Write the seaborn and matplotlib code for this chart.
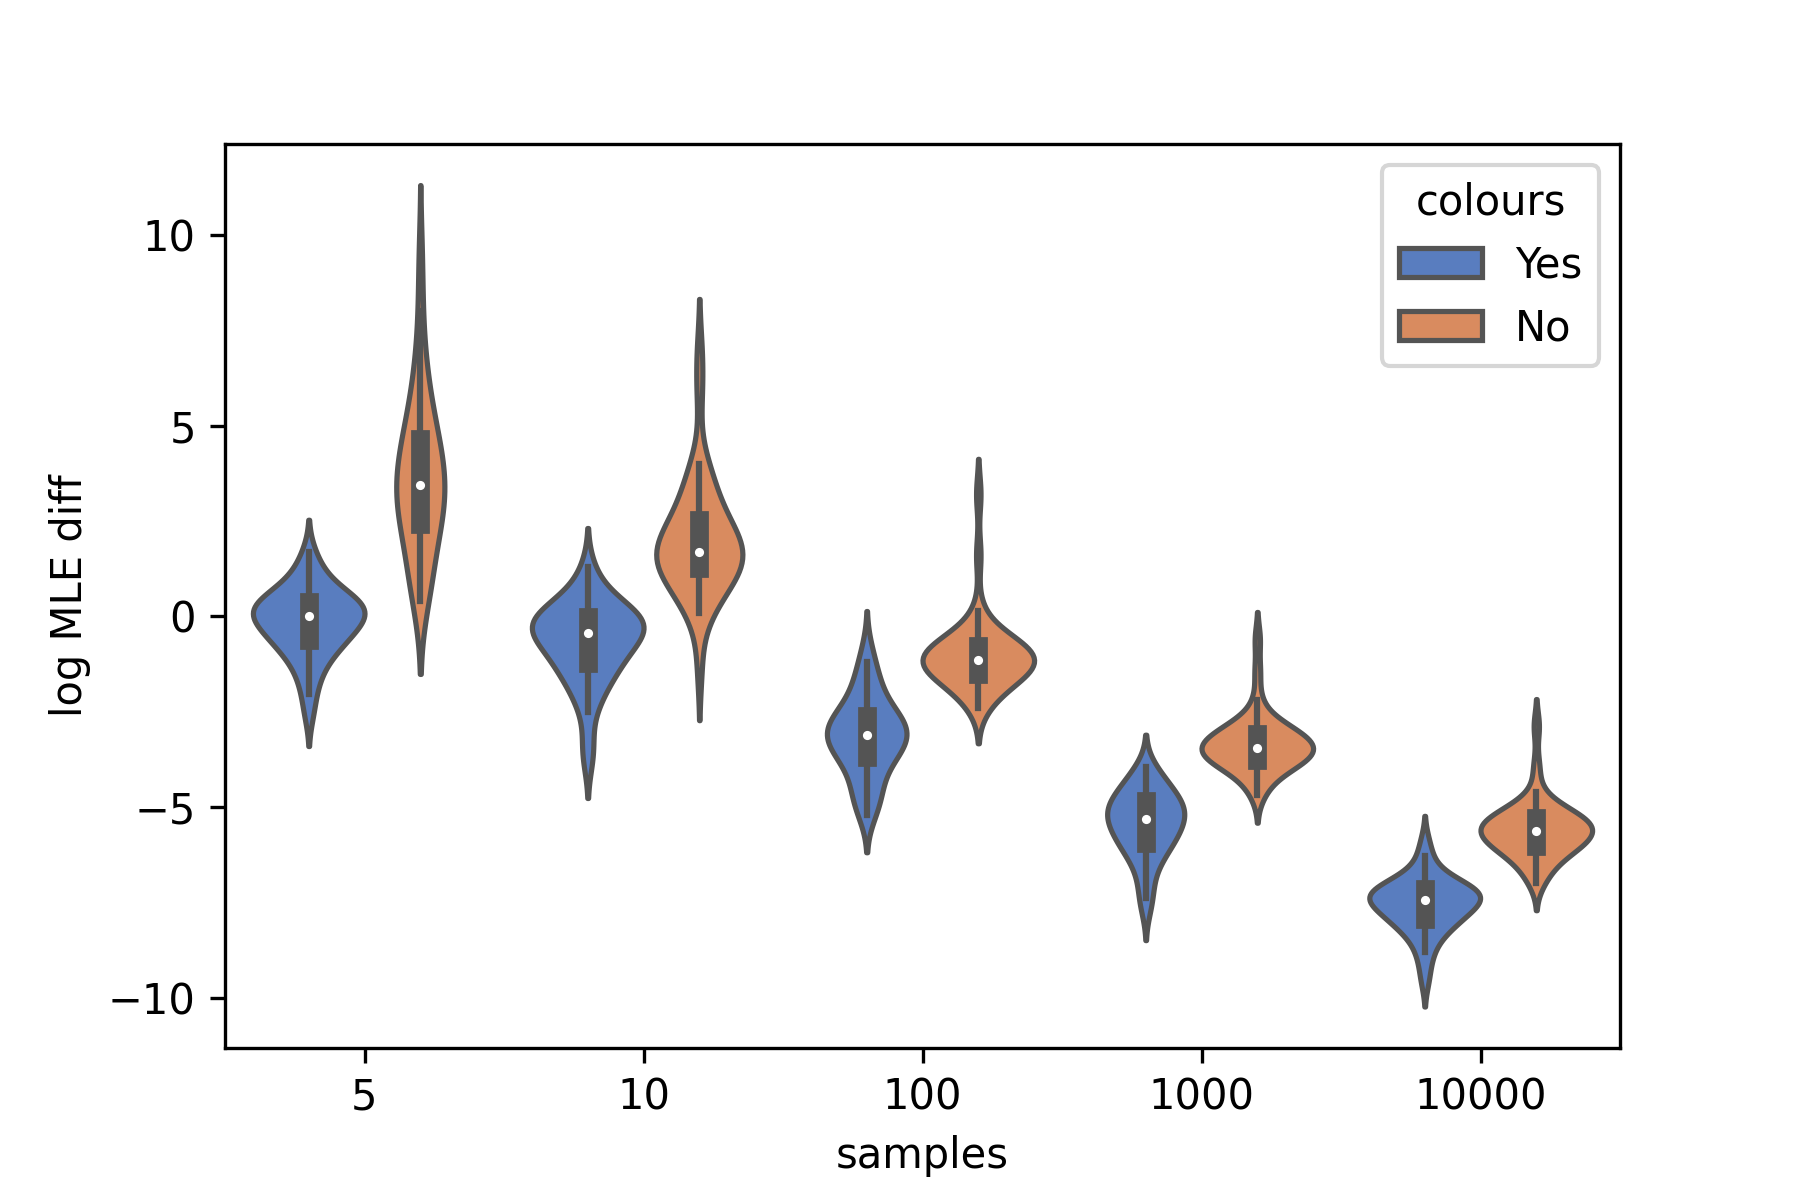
import numpy as np
import pandas as pd
import matplotlib
matplotlib.use("Agg")
import matplotlib.pyplot as plt
import seaborn as sns

samples = ["5", "10", "100", "1000", "10000"]
colours = ["Yes", "No"]

# log MLE diff values per group, estimated from the violins (median, box, whiskers, tails)
yes_5 = [-2.55, -2.05, -1.70, -1.45, -1.25, -1.08, -0.94, -0.85, -0.76, -0.68,
         -0.61, -0.54, -0.47, -0.40, -0.34, -0.27, -0.21, -0.15, -0.09, -0.03,
         0.02, 0.06, 0.09, 0.13, 0.17, 0.21, 0.25, 0.29, 0.33, 0.37,
         0.42, 0.47, 0.52, 0.58, 0.70, 0.83, 0.97, 1.12, 1.35, 1.68]
no_5 = [0.40, 0.55, 0.70, 0.90, 1.15, 1.40, 1.65, 1.90, 2.12, 2.32,
        2.46, 2.58, 2.68, 2.78, 2.88, 2.98, 3.08, 3.18, 3.28, 3.38,
        3.50, 3.62, 3.74, 3.86, 3.98, 4.10, 4.22, 4.34, 4.46, 4.62,
        4.76, 4.95, 5.15, 5.40, 5.70, 6.00, 6.40, 6.90, 8.00, 9.40]
yes_10 = [-3.75, -3.30, -2.50, -2.20, -1.97, -1.78, -1.63, -1.51, -1.40, -1.30,
          -1.20, -1.11, -1.02, -0.93, -0.85, -0.77, -0.69, -0.61, -0.54, -0.46,
          -0.40, -0.36, -0.33, -0.29, -0.25, -0.21, -0.17, -0.13, -0.08, -0.04,
          0.01, 0.06, 0.11, 0.17, 0.25, 0.35, 0.48, 0.65, 0.90, 1.30]
no_10 = [-1.30, 0.08, 0.22, 0.38, 0.52, 0.66, 0.80, 0.94, 1.08, 1.22,
         1.28, 1.31, 1.35, 1.39, 1.43, 1.47, 1.51, 1.55, 1.60, 1.64,
         1.74, 1.82, 1.90, 1.98, 2.06, 2.14, 2.22, 2.31, 2.40, 2.49,
         2.63, 2.80, 3.00, 3.20, 3.40, 3.60, 3.80, 4.00, 5.90, 6.90]
yes_100 = [-5.20, -5.05, -4.90, -4.74, -4.57, -4.40, -4.23, -4.07, -3.92, -3.78,
           -3.65, -3.60, -3.54, -3.49, -3.43, -3.38, -3.32, -3.27, -3.21, -3.16,
           -3.06, -3.01, -2.97, -2.92, -2.88, -2.83, -2.79, -2.74, -2.70, -2.65,
           -2.55, -2.43, -2.30, -2.15, -2.00, -1.84, -1.66, -1.46, -1.20, -0.85]
no_100 = [-2.40, -2.25, -2.10, -1.97, -1.85, -1.76, -1.69, -1.63, -1.58, -1.54,
          -1.49, -1.45, -1.41, -1.37, -1.34, -1.30, -1.26, -1.23, -1.19, -1.16,
          -1.12, -1.09, -1.06, -1.02, -0.99, -0.95, -0.91, -0.88, -0.84, -0.80,
          -0.75, -0.71, -0.66, -0.61, -0.54, -0.42, -0.25, 0.15, 1.60, 3.20]
yes_1000 = [-7.65, -7.40, -7.10, -6.78, -6.55, -6.38, -6.25, -6.16, -6.07, -5.99,
            -5.92, -5.85, -5.78, -5.71, -5.65, -5.58, -5.52, -5.46, -5.40, -5.34,
            -5.29, -5.24, -5.20, -5.15, -5.10, -5.06, -5.01, -4.96, -4.90, -4.85,
            -4.79, -4.73, -4.67, -4.60, -4.52, -4.43, -4.32, -4.20, -4.08, -3.95]
no_1000 = [-4.70, -4.48, -4.30, -4.16, -4.06, -3.98, -3.92, -3.88, -3.83, -3.79,
           -3.76, -3.72, -3.69, -3.65, -3.62, -3.59, -3.56, -3.53, -3.50, -3.47,
           -3.43, -3.40, -3.36, -3.33, -3.29, -3.25, -3.22, -3.18, -3.14, -3.10,
           -3.05, -3.01, -2.96, -2.90, -2.84, -2.75, -2.60, -2.20, -1.45, -0.60]
yes_10000 = [-9.55, -9.10, -8.80, -8.57, -8.40, -8.28, -8.18, -8.11, -8.04, -7.98,
             -7.92, -7.86, -7.81, -7.76, -7.71, -7.66, -7.61, -7.56, -7.51, -7.46,
             -7.43, -7.40, -7.37, -7.35, -7.32, -7.29, -7.26, -7.24, -7.21, -7.17,
             -7.14, -7.11, -7.07, -7.03, -6.96, -6.87, -6.74, -6.55, -6.28, -5.92]
no_10000 = [-7.00, -6.82, -6.65, -6.50, -6.38, -6.29, -6.22, -6.16, -6.11, -6.06,
            -6.01, -5.97, -5.92, -5.88, -5.84, -5.80, -5.76, -5.73, -5.69, -5.65,
            -5.61, -5.58, -5.55, -5.52, -5.48, -5.45, -5.42, -5.38, -5.34, -5.31,
            -5.27, -5.22, -5.18, -5.13, -5.07, -4.99, -4.88, -4.60, -3.95, -2.88]

groups = {
    ("5", "Yes"): yes_5, ("5", "No"): no_5,
    ("10", "Yes"): yes_10, ("10", "No"): no_10,
    ("100", "Yes"): yes_100, ("100", "No"): no_100,
    ("1000", "Yes"): yes_1000, ("1000", "No"): no_1000,
    ("10000", "Yes"): yes_10000, ("10000", "No"): no_10000,
}

rows = []
for (s, c), vals in groups.items():
    for v in vals:
        rows.append((s, c, v))
df = pd.DataFrame(rows, columns=["samples", "colours", "log MLE diff"])

fig, ax = plt.subplots(figsize=(6, 4), dpi=300)
fig.subplots_adjust(bottom=0.127)
# one call per sample size so the two violins are scaled against each other
for s in samples:
    sns.violinplot(data=df[df["samples"] == s], x="samples", y="log MLE diff",
                   hue="colours", order=samples, hue_order=colours,
                   palette="muted", common_norm=True, legend=(s == samples[0]),
                   inner_kws=dict(box_width=4.5, whis_width=1.5, marker="o",
                                  markersize=2.2, markeredgewidth=0),
                   ax=ax)
sns.move_legend(ax, "upper right")

fig.savefig("out.png")
